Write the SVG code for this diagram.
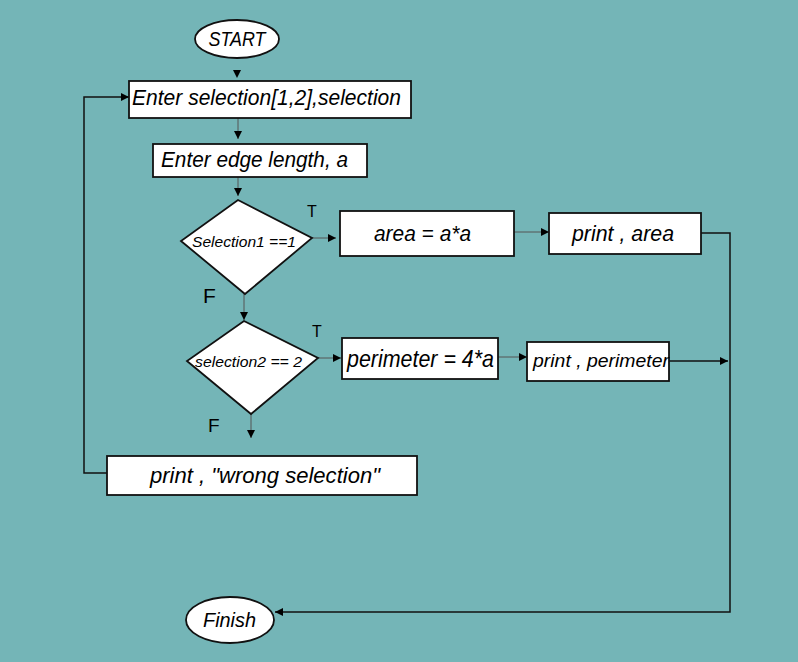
<svg xmlns="http://www.w3.org/2000/svg" width="798" height="662" viewBox="0 0 798 662">
<style>
.bg{fill:#74B5B7}
.box{fill:#fff;stroke:#111;stroke-width:1.8}
.t{font-family:"Liberation Sans",Arial,sans-serif;font-style:italic;fill:#000}
.lbl{font-family:"Liberation Sans",Arial,sans-serif;fill:#000}
.thin{stroke:#555;stroke-width:1;fill:none}
.thick{stroke:#111;stroke-width:1.5;fill:none}
</style>
<defs>
<marker id="ah" viewBox="0 0 8 8" refX="8" refY="4" markerWidth="8" markerHeight="8" markerUnits="userSpaceOnUse" orient="auto">
<path d="M0,0 L8,4 L0,8 z" fill="#000"/>
</marker>
</defs>
<rect class="bg" x="0" y="0" width="798" height="662"/>

<g id="connectors">
<path d="M237,70 L237,78" stroke="none" fill="none" marker-end="url(#ah)"/>
<path class="thin" d="M238,118 L238,139" marker-end="url(#ah)"/>
<path class="thin" d="M238,177 L238,196" marker-end="url(#ah)"/>
<path class="thin" d="M244,294 L244,320" marker-end="url(#ah)"/>
<path class="thin" d="M251,414 L251,438" marker-end="url(#ah)"/>
<path class="thin" d="M312,238 L336,238" marker-end="url(#ah)"/>
<path class="thin" d="M514,232 L549,232" marker-end="url(#ah)"/>
<path class="thin" d="M318,358 L341,358" marker-end="url(#ah)"/>
<path class="thin" d="M498,357 L527,357" marker-end="url(#ah)"/>
<path class="thick" d="M669,361 L728,361" marker-end="url(#ah)"/>
<path class="thick" d="M701,233 L730,233 L730,612 L275,612" marker-end="url(#ah)"/>
<path class="thick" d="M108,473 L84,473 L84,97 L129,97" marker-end="url(#ah)"/>
</g>

<g id="start">
<ellipse class="box" cx="237" cy="39" rx="42" ry="19"/>
<text class="t" x="237" y="46" font-size="20" text-anchor="middle" textLength="57" lengthAdjust="spacingAndGlyphs">START</text>
</g>

<g id="input-selection">
<rect class="box" x="129" y="81" width="282" height="37"/>
<text class="t" x="132" y="105" font-size="22" textLength="269" lengthAdjust="spacingAndGlyphs">Enter selection[1,2],selection</text>
</g>

<g id="input-edge">
<rect class="box" x="153" y="144" width="214" height="33"/>
<text class="t" x="161" y="167" font-size="22" textLength="187" lengthAdjust="spacingAndGlyphs">Enter edge length, a</text>
</g>

<g id="decision1">
<polygon class="box" points="238,200 312,238 245,294 181,241"/>
<text class="t" x="192" y="247" font-size="15" textLength="104" lengthAdjust="spacingAndGlyphs">Selection1 ==1</text>
<text class="lbl" x="307" y="217" font-size="16">T</text>
<text class="lbl" x="203" y="303" font-size="21">F</text>
</g>

<g id="area">
<rect class="box" x="340" y="211" width="174" height="45"/>
<text class="t" x="374" y="241" font-size="22" textLength="97" lengthAdjust="spacingAndGlyphs">area = a*a</text>
</g>

<g id="print-area">
<rect class="box" x="549" y="213" width="152" height="41"/>
<text class="t" x="572" y="241" font-size="22" textLength="102" lengthAdjust="spacingAndGlyphs">print , area</text>
</g>

<g id="decision2">
<polygon class="box" points="244,321 318,358 251,414 187,361"/>
<text class="t" x="195" y="367" font-size="15" textLength="107" lengthAdjust="spacingAndGlyphs">selection2 == 2</text>
<text class="lbl" x="312" y="337" font-size="16">T</text>
<text class="lbl" x="208" y="432" font-size="19">F</text>
</g>

<g id="perimeter">
<rect class="box" x="342" y="338" width="156" height="41"/>
<text class="t" x="347" y="367" font-size="24" textLength="147" lengthAdjust="spacingAndGlyphs">perimeter = 4*a</text>
</g>

<g id="print-perimeter">
<rect class="box" x="527" y="342" width="142" height="39"/>
<text class="t" x="533" y="367" font-size="18" textLength="136" lengthAdjust="spacingAndGlyphs">print , perimeter</text>
</g>

<g id="print-wrong">
<rect class="box" x="107" y="456" width="310" height="39"/>
<text class="t" x="150" y="483" font-size="22" textLength="230" lengthAdjust="spacingAndGlyphs">print , "wrong selection"</text>
</g>

<g id="finish">
<ellipse class="box" cx="230" cy="620" rx="44" ry="23"/>
<text class="t" x="203" y="627" font-size="20" textLength="53" lengthAdjust="spacingAndGlyphs">Finish</text>
</g>
</svg>
